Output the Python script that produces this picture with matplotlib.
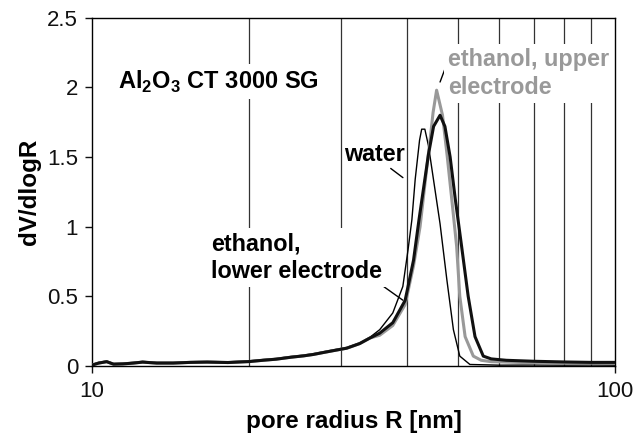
import numpy as np
import matplotlib
matplotlib.use('Agg')
import matplotlib.pyplot as plt
from matplotlib.ticker import FixedLocator

plt.rcParams['font.family'] = ['Liberation Sans', 'DejaVu Sans']
plt.rcParams['mathtext.fontset'] = 'custom'
plt.rcParams['mathtext.rm'] = 'Liberation Sans'
plt.rcParams['mathtext.bf'] = 'Liberation Sans:bold'

# pore radius R [nm] and dV/dlogR
base_r = [10.0, 10.3, 10.67, 11.0, 11.46, 12.0, 12.5, 13.3, 14.3, 15.4, 16.6, 18.2,
          20.0, 21.2, 22.5, 24.0, 25.4, 26.5, 27.7, 29.0, 30.7, 32.5, 34.0]
base_v = [0.005, 0.02, 0.03, 0.012, 0.014, 0.02, 0.027, 0.02, 0.02, 0.025, 0.027, 0.024,
          0.031, 0.04, 0.048, 0.062, 0.072, 0.082, 0.096, 0.11, 0.127, 0.16, 0.20]

water_r = base_r + [35.5, 37.6, 39.3, 40.2, 40.9, 41.5, 42.3, 42.7, 43.3, 44.0, 45.3,
                    46.3, 47.7, 49.1, 50.5, 52.8, 60.0, 70.0, 80.0, 90.0, 100.0]
water_v = [v + 0.005 for v in base_v] + [0.26, 0.38, 0.57, 0.83, 1.05, 1.34, 1.62, 1.70, 1.70,
                                         1.58, 1.26, 1.02, 0.62, 0.26, 0.07, 0.01, 0.005,
                                         0.006, 0.005, 0.006, 0.005]

upper_r = base_r + [35.5, 37.6, 39.7, 41.2, 42.4, 43.6, 44.3, 44.9, 45.6, 46.8, 47.8,
                    48.8, 49.8, 50.5, 51.7, 53.6, 55.5, 58.0, 65.0, 75.0, 85.0, 100.0]
upper_v = base_v + [0.22, 0.29, 0.44, 0.72, 1.00, 1.40, 1.62, 1.82, 1.98, 1.80, 1.50,
                    1.18, 0.86, 0.50, 0.21, 0.07, 0.04, 0.03, 0.025, 0.02, 0.02, 0.02]

lower_r = base_r + [35.5, 37.6, 39.7, 41.2, 42.2, 44.0, 45.0, 46.3, 47.3, 48.4, 49.5,
                    50.9, 52.4, 54.0, 56.0, 58.0, 62.0, 70.0, 80.0, 90.0, 100.0]
lower_v = base_v + [0.235, 0.31, 0.47, 0.76, 1.05, 1.52, 1.72, 1.80, 1.72, 1.50, 1.20,
                    0.86, 0.50, 0.21, 0.07, 0.05, 0.04, 0.033, 0.028, 0.025, 0.025]

grid_r = [20, 30, 40, 50, 60, 70, 80, 90]
y_ticks = [0, 0.5, 1, 1.5, 2, 2.5]
y_labels = ['0', '0.5', '1', '1.5', '2', '2.5']

fig = plt.figure(figsize=(6.34, 4.34), dpi=100)
ax = fig.add_axes([0.145, 0.157, 0.825, 0.802])

ax.set_xscale('log')
ax.set_xlim(10, 100)
ax.set_ylim(0, 2.5)
ax.xaxis.set_major_locator(FixedLocator([10, 100]))
ax.set_xticklabels(['10', '100'])
ax.xaxis.set_minor_locator(FixedLocator(grid_r))
ax.xaxis.set_minor_formatter(plt.NullFormatter())
ax.set_yticks(y_ticks)
ax.set_yticklabels(y_labels)
ax.tick_params(which='major', direction='out', length=5, width=1, labelsize=16, colors='#111111')
ax.tick_params(axis='x', which='major', pad=6)
ax.tick_params(axis='y', which='major', pad=5)
ax.tick_params(which='minor', length=0)
ax.grid(which='minor', axis='x', color='#333333', linewidth=0.9, zorder=1)
for s in ax.spines.values():
    s.set_linewidth(1.0)

ax.plot(water_r, water_v, color='black', linewidth=1.0, zorder=3)
ax.plot(upper_r, upper_v, color='#999999', linewidth=2.2, zorder=3)
ax.plot(lower_r, lower_v, color='#111111', linewidth=2.2, zorder=4)

ax.set_xlabel('pore radius R [nm]', fontsize=17.5, fontweight='bold', labelpad=6)
ax.set_ylabel('dV/dlogR', fontsize=17.5, fontweight='bold', labelpad=4)

wbox = dict(facecolor='white', edgecolor='none', pad=3)
ax.text(11.2, 2.04, r'Al$_\mathbf{2}$O$_\mathbf{3}$ CT 3000 SG', fontsize=17,
        fontweight='bold', va='center', ha='left', bbox=wbox, zorder=5)
ax.text(30.3, 1.52, 'water', fontsize=16.8, fontweight='bold', va='center', ha='left', zorder=5)
ax.text(47.9, 2.10, 'ethanol, upper\nelectrode', fontsize=16.8, fontweight='bold',
        color='#999999', va='center', ha='left', linespacing=1.3, bbox=wbox, zorder=5)
ax.text(16.9, 0.78, 'ethanol,\nlower electrode', fontsize=16.8, fontweight='bold',
        va='center', ha='left', linespacing=1.25, bbox=wbox, zorder=5)

ax.annotate('', xy=(39.7, 1.34), xytext=(36.9, 1.43),
            arrowprops=dict(arrowstyle='-', color='black', lw=1.0))
ax.annotate('', xy=(46.1, 2.02), xytext=(47.5, 2.15),
            arrowprops=dict(arrowstyle='-', color='black', lw=1.0))
ax.annotate('', xy=(39.7, 0.46), xytext=(35.8, 0.58),
            arrowprops=dict(arrowstyle='-', color='black', lw=1.0))

fig.savefig('out.png', dpi=100)
